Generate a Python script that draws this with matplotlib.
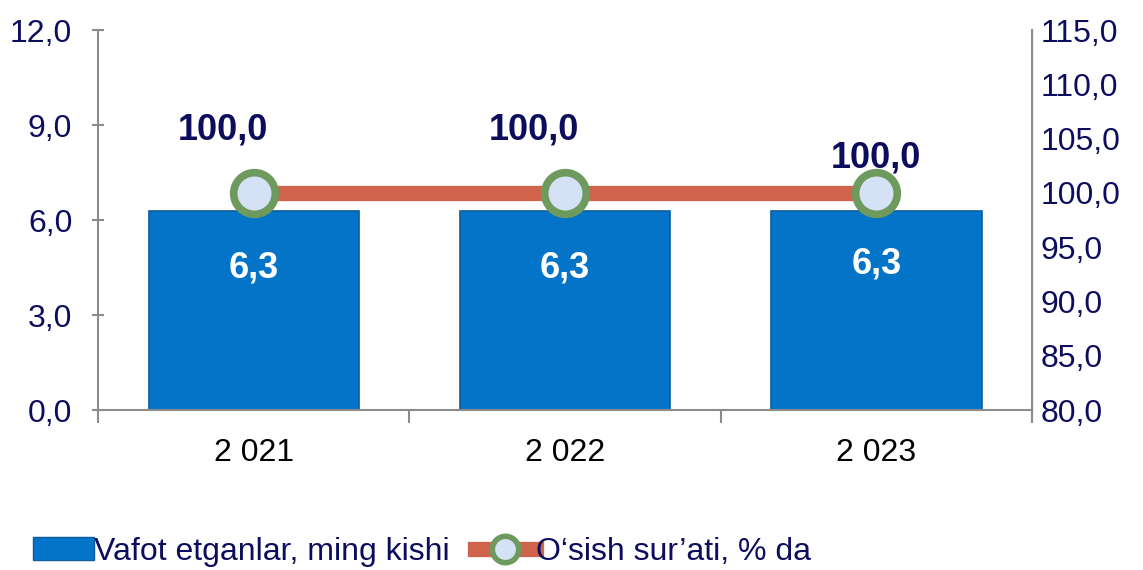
import matplotlib.pyplot as plt
import numpy as np
from matplotlib.lines import Line2D
from matplotlib.patches import Patch

# -------------------- DATA --------------------
years = ["2 021", "2 022", "2 023"]
deaths = [6.3, 6.3, 6.3]          # Vafot etganlar, ming kishi
growth = [100.0, 100.0, 100.0]    # O'sish sur'ati, % da

left_ticks = [0, 3, 6, 9, 12]
right_ticks = [80, 85, 90, 95, 100, 105, 110, 115]

# -------------------- STYLE --------------------
plt.rcParams['font.family'] = ['Liberation Sans', 'DejaVu Sans']
navy = '#0D0D5E'
grey = '#8C8C8C'
bar_color = '#0474C9'
line_color = '#D0634B'


def fmt(v):
    return f"{v:.1f}".replace(".", ",")


fig = plt.figure(figsize=(11.43, 5.70), dpi=100)
ax = fig.add_axes([0.0857, 0.2807, 0.8173, 0.6666])
ax2 = ax.twinx()

x = np.arange(len(years))
bars = ax.bar(x, deaths, width=0.675, color=bar_color, edgecolor='#0A5C9E',
              linewidth=1.2, zorder=2)
ax.set_xlim(-0.5, len(years) - 0.5)
ax.set_ylim(0, 12)
ax.set_yticks(left_ticks)
ax.set_yticklabels([fmt(v) for v in left_ticks], color=navy, fontsize=23)

# x ticks at category boundaries, labels in the middle
ax.set_xticks(np.arange(-0.5, len(years), 1.0))
ax.set_xticklabels([])
ax.set_xticks(x, minor=True)
ax.set_xticklabels(years, minor=True, fontsize=23, color='black')
ax.tick_params(axis='x', which='major', length=9, color=grey, width=1.5, direction='out')
ax.tick_params(axis='x', which='minor', length=0, pad=20)
ax.tick_params(axis='y', length=9, color=grey, width=1.5, direction='inout', pad=14)

for s in ['top']:
    ax.spines[s].set_visible(False)
    ax2.spines[s].set_visible(False)
for sp in [ax.spines['left'], ax.spines['bottom'], ax2.spines['right']]:
    sp.set_color(grey)
    sp.set_linewidth(1.5)
ax2.spines['left'].set_visible(False)
ax2.spines['bottom'].set_visible(False)

bar_label_y = [4.5, 4.5, 4.6]
for xi, v, ly in zip(x, deaths, bar_label_y):
    ax.text(xi, ly, fmt(v), ha='center', va='center', color='white',
            fontsize=26, fontweight='bold', zorder=3)

# -------------------- LINE --------------------
ax2.set_ylim(80, 115)
ax2.set_yticks(right_ticks)
ax2.set_yticklabels([fmt(v) for v in right_ticks], color=navy, fontsize=23)
ax2.tick_params(axis='y', length=0, pad=6)
ax2.plot(x, growth, color=line_color, linewidth=11, solid_capstyle='butt', zorder=3)
ax2.plot(x, growth, linestyle='none', marker='o', markersize=30,
         markerfacecolor='#D5E2F6', markeredgecolor='#6E9A5E', markeredgewidth=5.5, zorder=5)

offsets = [(-0.1, 5.8), (-0.1, 5.8), (0.0, 3.2)]
for xi, v, (dx, dy) in zip(x, growth, offsets):
    ax2.text(xi + dx, v + dy, fmt(v), ha='center', va='center', color=navy,
             fontsize=26, fontweight='bold', zorder=4)

# -------------------- LEGEND --------------------
h1 = Patch(facecolor=bar_color, edgecolor='#0A5C9E')
h2 = Line2D([], [], color=line_color, linewidth=11, marker='o', markersize=19,
            markerfacecolor='#D5E2F6', markeredgecolor='#6E9A5E', markeredgewidth=4)
fig.legend([h1, h2], ["Vafot etganlar, ming kishi", "O\u2018sish sur\u2019ati, % da"],
           loc='center left', bbox_to_anchor=(0.029, 0.032), ncol=2, frameon=False,
           fontsize=23, labelcolor=navy, handlelength=1.9, handletextpad=0.0,
           columnspacing=0.8, borderpad=0.0, borderaxespad=0.0)

fig.savefig("out.png", dpi=100)
